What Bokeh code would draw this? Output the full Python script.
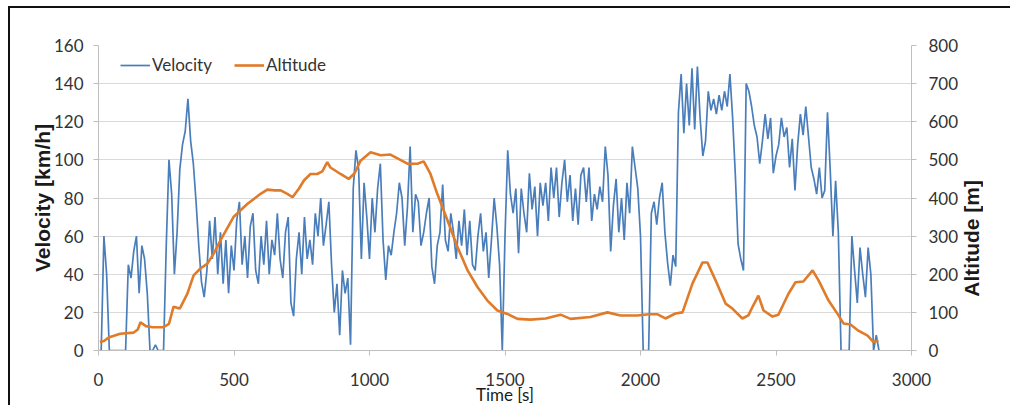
from bokeh.plotting import figure
from bokeh.layouts import row
from bokeh.models import Range1d, LinearAxis, Legend, LegendItem, FixedTicker, Div
from bokeh.embed import file_html
from bokeh.resources import INLINE

# ---- data ----
vel_time = list(range(0, 2890, 10))  # seconds, 10 s sampling
velocity = [
    0, 0, 60, 40, 0, 0, 0, 0, 0, 0,
    0, 45, 38, 52, 60, 30, 55, 48, 30, 0,
    0, 3, 0, 0, 0, 55, 100, 82, 40, 62,
    95, 108, 115, 132, 110, 98, 78, 55, 36, 28,
    42, 68, 48, 70, 40, 62, 35, 58, 30, 55,
    42, 68, 78, 45, 60, 38, 65, 72, 42, 35,
    60, 45, 68, 40, 58, 50, 72, 48, 38, 62,
    70, 25, 18, 48, 62, 40, 70, 48, 58, 45,
    72, 60, 80, 55, 66, 78, 45, 20, 35, 8,
    42, 30, 38, 3, 85, 105, 95, 48, 88, 70,
    48, 80, 62, 85, 98, 58, 37, 55, 50, 62,
    72, 88, 80, 55, 75, 107, 62, 82, 78, 55,
    62, 72, 80, 44, 35, 55, 62, 87, 58, 52,
    72, 62, 48, 68, 55, 74, 50, 68, 45, 42,
    60, 72, 52, 62, 38, 58, 80, 65, 45, 0,
    60, 105, 82, 72, 85, 51, 85, 72, 62, 93,
    74, 86, 60, 88, 76, 88, 68, 96, 80, 96,
    70, 88, 100, 78, 92, 68, 85, 66, 92, 96,
    78, 96, 68, 82, 74, 86, 78, 107, 92, 52,
    76, 90, 62, 80, 58, 88, 72, 107, 96, 85,
    60, 0, 0, 0, 72, 78, 66, 80, 88, 62,
    46, 34, 50, 44, 125, 145, 114, 140, 118, 148,
    116, 149, 122, 102, 110, 136, 126, 132, 124, 134,
    126, 136, 128, 145, 122, 92, 56, 48, 42, 140,
    136, 128, 118, 112, 98, 110, 124, 111, 122, 93,
    102, 108, 122, 112, 117, 96, 111, 84, 108, 124,
    113, 128, 112, 96, 90, 82, 96, 80, 84, 125,
    95, 60, 89, 62, 0, 0, 0, 0, 60, 42,
    25, 54, 40, 28, 54, 40, 0, 8, 0,
]

alt_time = [5, 20, 40, 80, 130, 145, 155, 175, 200, 240,
            260, 277, 300, 328, 351, 376, 402, 425, 450, 498,
            550, 598, 623, 650, 672, 697, 716, 740, 758, 782,
            807, 826, 844, 856, 893, 923, 945, 967, 1004, 1041,
            1077, 1100, 1140, 1177, 1200, 1225, 1250, 1288, 1325, 1362,
            1399, 1435, 1472, 1509, 1546, 1594, 1650, 1705, 1742, 1815,
            1878, 1926, 1989, 2030, 2063, 2092, 2129, 2155, 2192, 2229,
            2247, 2277, 2314, 2339, 2376, 2398, 2413, 2435, 2454, 2487,
            2509, 2546, 2572, 2601, 2635, 2657, 2694, 2727, 2749, 2775,
            2804, 2838, 2860, 2878]
altitude = [22, 25, 35, 44, 47, 55, 74, 64, 61, 61,
            70, 115, 110, 149, 197, 215, 228, 254, 289, 350,
            385, 411, 422, 420, 420, 411, 402, 425, 446, 463,
            463, 470, 494, 480, 463, 450, 465, 498, 520, 512,
            514, 505, 490, 490, 496, 463, 411, 341, 271, 210,
            166, 131, 105, 96, 83, 81, 84, 94, 83, 88,
            100, 92, 92, 95, 95, 84, 97, 100, 176, 231,
            231, 184, 123, 110, 84, 92, 114, 144, 105, 89,
            94, 149, 179, 181, 210, 184, 131, 96, 71, 68,
            52, 39, 22, 26]

x_ticks = [0, 500, 1000, 1500, 2000, 2500, 3000]
vel_ticks = [0, 20, 40, 60, 80, 100, 120, 140, 160]
alt_ticks = [0, 100, 200, 300, 400, 500, 600, 700, 800]

BLUE = "#4a7ebb"
ORANGE = "#e07b2a"
GRID = "#d9d9d9"
AXIS = "#bfbfbf"
TEXT = "#333333"
TICK_FONT = "Lato"

p = figure(width=952, height=399,
           x_range=Range1d(0, 3000), y_range=Range1d(0, 160),
           output_backend="svg", toolbar_location=None,
           min_border_left=88, min_border_right=51,
           min_border_top=37, min_border_bottom=57)
p.styles = {"border-left": "2px solid #111111", "border-top": "2px solid #111111",
            "margin-left": "8px", "margin-top": "6px"}
p.outline_line_color = None
p.extra_y_ranges = {"alt": Range1d(0, 800)}

r_vel = p.line(vel_time, velocity, line_color=BLUE, line_width=1.7)
r_alt = p.line(alt_time, altitude, line_color=ORANGE, line_width=2.6,
               y_range_name="alt")

# grids
p.xgrid.visible = False
p.ygrid.grid_line_color = GRID
p.ygrid.grid_line_width = 1.2
p.ygrid.ticker = FixedTicker(ticks=vel_ticks)

def style_axis(ax):
    ax.axis_line_color = AXIS
    ax.major_tick_line_color = AXIS
    ax.minor_tick_line_color = None
    ax.major_tick_in = 0
    ax.major_tick_out = 5
    ax.major_label_text_font = TICK_FONT
    ax.major_label_text_font_size = "17px"
    ax.major_label_text_color = TEXT
    ax.axis_label_text_color = "#1a1a1a"

# x axis
xa = p.xaxis[0]
style_axis(xa)
xa.ticker = FixedTicker(ticks=x_ticks)
xa.major_label_standoff = 17
xa.axis_label = "Time [s]"
xa.axis_label_text_font = TICK_FONT
xa.axis_label_text_font_size = "17px"
xa.axis_label_text_font_style = "normal"
xa.axis_label_standoff = -5

# left axis
ya = p.yaxis[0]
style_axis(ya)
ya.ticker = FixedTicker(ticks=vel_ticks)
ya.major_label_standoff = 10
ya.axis_label = "Velocity [km/h]"
ya.axis_label_text_font = "Liberation Sans"
ya.axis_label_text_font_size = "21px"
ya.axis_label_text_font_style = "bold"
ya.axis_label_standoff = -3

# right axis
ra = LinearAxis(y_range_name="alt", ticker=FixedTicker(ticks=alt_ticks))
style_axis(ra)
ra.major_label_standoff = 12
p.add_layout(ra, "right")

legend = Legend(items=[LegendItem(label="Velocity", renderers=[r_vel]),
                       LegendItem(label="Altitude", renderers=[r_alt])],
                orientation="horizontal", location=(22, 275))
legend.background_fill_alpha = 0
legend.border_line_color = None
legend.padding = 4
legend.spacing = 22
legend.glyph_width = 30
legend.label_standoff = 2
legend.label_text_font = TICK_FONT
legend.label_text_font_size = "17px"
legend.label_text_color = TEXT
p.add_layout(legend)

# right-axis title, reading bottom-to-top as in the reference
alt_title = Div(
    text=('<div style="writing-mode:vertical-rl;transform:rotate(180deg);'
          'font-family:\'Liberation Sans\',sans-serif;font-weight:bold;'
          'font-size:21px;line-height:21px;color:#1a1a1a;white-space:nowrap;">'
          'Altitude [m]</div>'),
    width=50, height=399, margin=(0, 0, 0, 0),
    styles={"margin-top": "6px", "border-top": "2px solid #111111",
            "padding-top": "172px", "padding-left": "1px",
            "box-sizing": "border-box"})

layout = row(p, alt_title, spacing=0)
open("out.html", "w").write(file_html(layout, INLINE))
